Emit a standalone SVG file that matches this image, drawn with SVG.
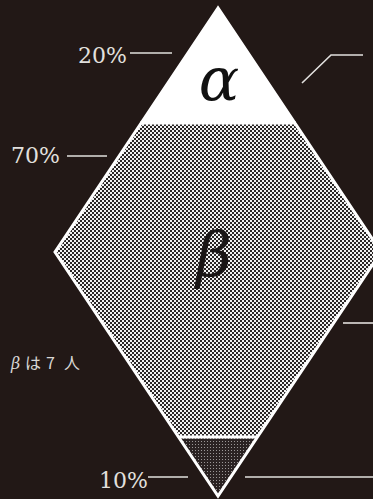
<svg xmlns="http://www.w3.org/2000/svg" width="373" height="499" viewBox="0 0 373 499">
<style>
.lbl{font-family:"DejaVu Serif",serif;font-size:22px;fill:#e2e0de}
.ln{stroke:#e2e0de;stroke-width:1.6;fill:none}
.greek{font-family:"DejaVu Serif",serif;font-style:italic;text-anchor:middle}
.jp{font-family:"Noto Sans CJK JP",sans-serif;font-size:16px;fill:#d8d6d4}
</style>
<defs>
<pattern id="chk" width="4" height="4" patternUnits="userSpaceOnUse">
<rect width="4" height="4" fill="#f2f2f2"/>
<rect width="2" height="2" fill="#2a2626"/>
<rect x="2" y="2" width="2" height="2" fill="#2a2626"/>
</pattern>
<pattern id="dots" width="3" height="3" patternUnits="userSpaceOnUse">
<rect width="3" height="3" fill="#2a2222"/>
<rect width="1" height="1" fill="#9a9696"/>
</pattern>
</defs>
<rect width="373" height="499" fill="#221816"/>
<g id="alpha">
<polygon points="218,8 140.5,123 295.5,123" fill="#ffffff"/>
<text class="greek" x="219" y="100" font-size="60" fill="#111">α</text>
</g>
<g id="beta">
<polygon points="140.5,123 295.5,123 381,252 257.4,437 178.6,437 55,252" fill="url(#chk)"/>
<text class="greek" x="214" y="276" font-size="62" fill="#1a1616">β</text>
</g>
<g id="gamma">
<polygon points="178.6,437 257.4,437 218,496" fill="url(#dots)"/>
</g>
<g id="outline">
<polygon points="218,8 55,252 218,496 381,252" fill="none" stroke="#ffffff" stroke-width="3" stroke-linejoin="miter"/>
<line x1="140" y1="123" x2="296" y2="123" stroke="#ffffff" stroke-width="3"/>
<line x1="178" y1="437" x2="258" y2="437" stroke="#ffffff" stroke-width="3"/>
</g>
<g id="connectors">
<line class="ln" x1="130" y1="53" x2="172" y2="53"/>
<line class="ln" x1="67" y1="156" x2="107" y2="156"/>
<polyline class="ln" points="302,83 331,55 363,55"/>
<line class="ln" x1="343" y1="323" x2="373" y2="323"/>
<line class="ln" x1="148" y1="477" x2="188" y2="477"/>
<line class="ln" x1="245" y1="477" x2="373" y2="477"/>
</g>
<g id="label-20">
<text class="lbl" x="78" y="63">20%</text>
</g>
<g id="label-70">
<text class="lbl" x="11" y="163">70%</text>
</g>
<g id="label-10">
<text class="lbl" x="99" y="488">10%</text>
</g>
<g id="label-beta-count">
<text class="jp" y="369"><tspan x="11" font-family="DejaVu Serif,serif" font-style="italic" font-size="16">β</tspan><tspan x="25">は</tspan><tspan x="46">7</tspan><tspan x="64">人</tspan></text>
</g>
</svg>
